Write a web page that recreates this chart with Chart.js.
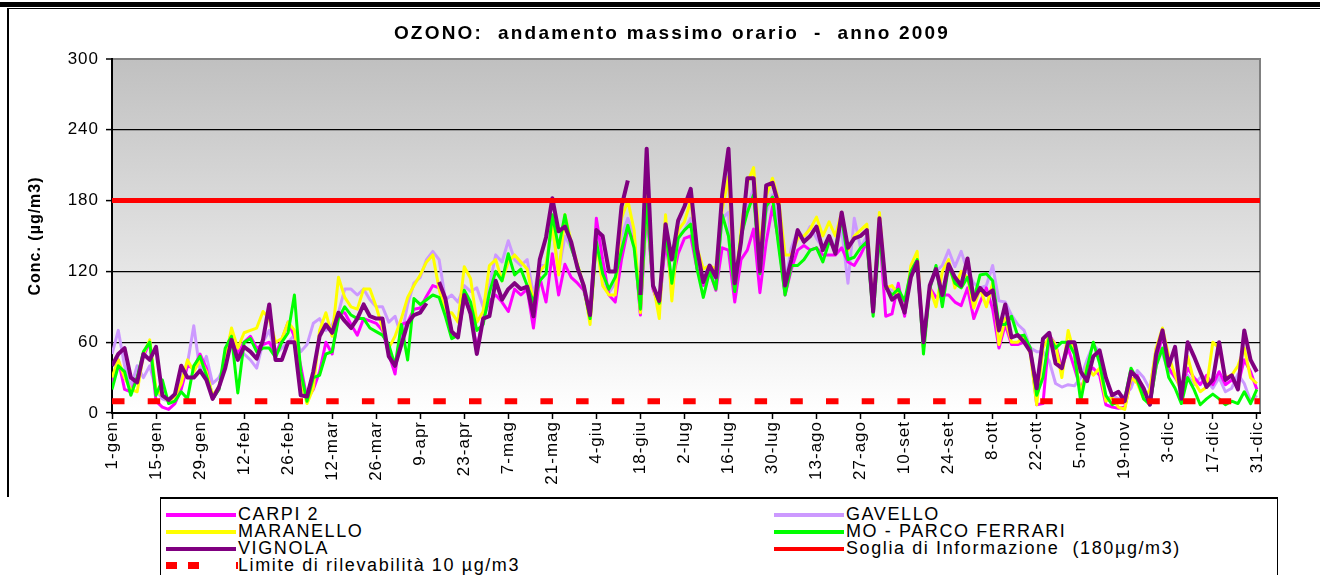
<!DOCTYPE html>
<html>
<head>
<meta charset="utf-8">
<script src="https://cdn.jsdelivr.net/npm/chart.js@4.4.0/dist/chart.umd.min.js"></script>
<style>
  body { margin: 0; background: #fff; font-family: "Liberation Sans", Arial, sans-serif; }
  #wrap { position: relative; width: 1320px; height: 575px; overflow: hidden; background: #fff; }
  #topband { position: absolute; left: 0; top: 2px; width: 1320px; height: 5px; background: #000; }
  #frame { position: absolute; left: 7px; top: 8px; width: 1320px; height: 489px; border-left: 2px solid #000; border-top: 1px solid #000; box-sizing: border-box; }
  #myChart { position: absolute; left: 0; top: 0; }
  #title { position: absolute; left: 322px; top: 22px; width: 700px; text-align: center; font-size: 19px; line-height: 22px; font-weight: bold; letter-spacing: 2.2px; color: #000; white-space: pre; }
  #legend { position: absolute; left: 160px; top: 497px; width: 1118px; height: 90px; border: 1px solid #000; border-top-width: 2px; box-sizing: border-box; background: #fff; }
  .item { position: absolute; height: 17px; line-height: 17px; font-size: 18px; letter-spacing: 1.6px; color: #000; white-space: pre; }
  .sw { position: absolute; left: 0; top: 7px; width: 70px; height: 4px; }
  .item span.txt { position: absolute; left: 72px; top: 0; }
</style>
</head>
<body>
<div id="wrap">
  <div id="topband"></div>
  <div id="frame"></div>
  <canvas id="myChart" width="1320" height="497"></canvas>
  <div id="title">OZONO:  andamento massimo orario  -  anno 2009</div>
  <div id="legend"></div>
</div>
<script>
const tickLabels = ['1-gen', '15-gen', '29-gen', '12-feb', '26-feb', '12-mar', '26-mar', '9-apr', '23-apr',
  '7-mag', '21-mag', '4-giu', '18-giu', '2-lug', '16-lug', '30-lug', '13-ago', '27-ago', '10-set',
  '24-set', '8-ott', '22-ott', '5-nov', '19-nov', '3-dic', '17-dic', '31-dic'];
const tickDays = tickLabels.map((_, i) => 1 + 14 * i);

// one reading every second day of the year
const days = Array.from({ length: 183 }, (_, i) => 1 + 2 * i);

const carpi = [
  25, 45, 20, 18, 30, 48, 60, 10, 5, 3, 8, 20, 40, 38, 50, 38, 12, 20, 50, 68, 50, 60, 65,
  55, 58, 60, 50, 62, 77, 65, 40, 12, 20, 35, 60, 50, 84, 85, 75, 66, 80, 78, 76, 70, 50, 33,
  75, 77, 88, 89, 99, 108, 106, 96, 66, 66, 96, 85, 55, 80, 95, 100, 94, 86, 105, 100, 105, 72, 115,
  94, 135, 100, 126, 115, 110, 104, 82, 165, 130, 100, 94, 130, 156, 145, 83, 175, 105, 90, 145, 110, 135, 148,
  150, 122, 108, 120, 104, 140, 138, 94, 130, 138, 156, 102, 145, 175, 145, 100, 122, 138, 142, 138, 140, 134, 134,
  134, 140, 128, 125, 134, 145, 86, 155, 82, 84, 110, 82, 122, 128, 60, 106, 98, 100, 100, 94, 91, 106, 80,
  94, 106, 88, 55, 75, 58, 58, 60, 55, 7, 8, 66, 58, 38, 55, 38, 20, 35, 38, 32, 7, 5, 4,
  5, 28, 32, 18, 8, 40, 68, 38, 30, 21, 38, 30, 24, 32, 24, 35, 24, 28, 24, 45, 35, 20
];
const gavello = [
  50, 70, 40, 22, 40, 30, 40, 20, 12, 10, 10, 30, 42, 74, 35, 48, 25, 30, 42, 65, 55, 50, 45,
  38, 60, 70, 50, 55, 60, 66, 52, 58, 76, 80, 70, 75, 85, 105, 105, 100, 105, 96, 90, 90, 77, 82,
  65, 92, 110, 115, 130, 137, 130, 96, 100, 94, 108, 103, 106, 90, 108, 134, 128, 146, 130, 125, 130, 100, 125,
  125, 160, 120, 150, 140, 125, 108, 80, 150, 115, 102, 110, 150, 165, 150, 85, 180, 108, 88, 160, 100, 150, 155,
  165, 130, 110, 122, 112, 165, 170, 100, 148, 175, 190, 120, 170, 185, 160, 110, 140, 155, 148, 158, 148, 140, 150,
  140, 155, 110, 165, 140, 150, 86, 165, 106, 104, 106, 88, 122, 128, 55, 106, 120, 125, 138, 124, 137, 120, 110,
  106, 108, 125, 95, 94, 83, 75, 70, 55, 52, 52, 44, 25, 22, 24, 23, 30, 45, 58, 52, 10, 15, 12,
  15, 21, 36, 30, 20, 55, 50, 35, 32, 25, 32, 24, 30, 28, 21, 30, 18, 21, 33, 25, 10, 15
];
const maranello = [
  30, 45, 30, 20, 18, 50, 62, 20, 15, 10, 14, 25, 45, 35, 45, 35, 15, 22, 45, 72, 55, 68, 70,
  72, 86, 80, 60, 63, 77, 70, 28, 8, 21, 70, 85, 65, 115, 98, 90, 88, 105, 105, 90, 72, 55, 65,
  80, 98, 108, 117, 128, 134, 105, 85, 85, 77, 124, 114, 77, 86, 125, 130, 112, 128, 134, 128, 122, 94, 120,
  126, 160, 117, 168, 145, 126, 108, 75, 145, 108, 100, 100, 165, 180, 155, 85, 185, 110, 80, 168, 95, 155, 162,
  180, 140, 122, 125, 122, 172, 200, 106, 155, 195, 208, 140, 184, 199, 180, 134, 134, 148, 150, 156, 166, 150, 162,
  150, 170, 138, 150, 155, 160, 86, 170, 106, 108, 100, 86, 125, 137, 55, 106, 90, 120, 130, 106, 120, 115, 89,
  106, 90, 110, 58, 80, 60, 60, 65, 50, 7, 55, 65, 58, 30, 70, 50, 15, 40, 32, 38, 10, 13, 5,
  3, 30, 25, 12, 20, 55, 72, 48, 32, 18, 48, 27, 18, 22, 60, 55, 30, 32, 40, 55, 30, 25
];
const parcoFerrari = [
  20, 40, 35, 15, 30, 52, 60, 15, 28, 8, 10, 18, 12, 40, 48, 32, 12, 20, 55, 65, 17, 60, 63,
  52, 55, 55, 47, 60, 68, 100, 35, 10, 30, 32, 50, 52, 80, 90, 83, 80, 80, 72, 69, 66, 58, 40,
  75, 45, 97, 92, 96, 100, 98, 82, 63, 66, 104, 94, 70, 75, 102, 120, 112, 135, 117, 122, 108, 94, 112,
  118, 168, 140, 168, 140, 125, 106, 80, 145, 118, 105, 115, 138, 159, 140, 88, 180, 108, 93, 155, 110, 148, 155,
  160, 122, 98, 120, 105, 168, 150, 103, 150, 170, 185, 118, 175, 183, 140, 100, 125, 125, 130, 138, 140, 128, 145,
  140, 165, 130, 132, 140, 145, 82, 150, 106, 100, 105, 95, 120, 130, 50, 105, 125, 90, 125, 110, 106, 115, 96,
  117, 118, 112, 75, 75, 82, 65, 66, 55, 15, 30, 65, 55, 60, 60, 50, 10, 38, 60, 42, 15, 7, 10,
  12, 38, 28, 12, 7, 40, 55, 30, 21, 8, 30, 20, 7, 12, 16, 12, 7, 10, 8, 18, 8, 20
];
const vignola = [
  40, 50, 55, 30, 26, 50, 45, 56, 15, 11, 16, 40, 30, 30, 36, 28, 12, 22, 38, 62, 45, 56, 52,
  46, 62, 92, 45, 45, 60, 60, 15, 14, 35, 65, 75, 68, 85, 78, 72, 80, 92, 82, 80, 80, 48, 40,
  58, 76, 83, 85, 93, null, 111, 97, 69, 64, 100, 84, 50, 80, 82, 112, 96, 105, 110, 105, 107, 82, 130,
  149, 182, 154, 158, 145, 123, 108, 83, 155, 150, 120, 120, 175, 197, null, 100, 224, 108, 95, 160, 130, 163, 175,
  190, 139, 111, 125, 115, 185, 224, 110, 145, 199, 199, 120, 193, 195, 176, 108, 130, 155, 145, 150, 158, 138, 150,
  135, 170, 140, 148, 150, 155, 86, 165, 108, 96, 100, 85, 115, 128, 60, 108, 122, 100, 126, 115, 108, 131, 96,
  106, 100, 104, 70, 92, 64, 66, 60, 52, 21, 63, 68, 42, 38, 60, 60, 35, 27, 48, 53, 30, 15, 18,
  10, 35, 30, 21, 7, 50, 70, 40, 56, 12, 60, 48, 35, 22, 28, 60, 28, 32, 20, 70, 45, 35
];
const sogliaInformazione = 180;
const limiteRilevabilita = 10;

const toPoints = (vals) => vals.map((v, i) => ({ x: days[i], y: v }));
const flatLine = (v) => [{ x: 1, y: v }, { x: 366, y: v }];

const series = [
  { label: 'CARPI 2', data: carpi, color: '#ff00ff', width: 3, order: 4 },
  { label: 'GAVELLO', data: gavello, color: '#cc99ff', width: 3, order: 5 },
  { label: 'MARANELLO', data: maranello, color: '#ffff00', width: 3, order: 3 },
  { label: 'MO - PARCO FERRARI', data: parcoFerrari, color: '#00ff00', width: 3, order: 2 },
  { label: 'VIGNOLA', data: vignola, color: '#800080', width: 4, order: 1 }
];

// grey-to-white fill of the plot area, plus its grey top/right edge
const plotBackground = {
  id: 'plotBackground',
  beforeDraw(chart) {
    const { ctx, chartArea: a } = chart;
    ctx.letterSpacing = '1px';
    const g = ctx.createLinearGradient(0, a.top, 0, a.bottom);
    g.addColorStop(0, '#c0c0c0');
    g.addColorStop(1, '#ffffff');
    ctx.save();
    ctx.fillStyle = g;
    ctx.fillRect(a.left, a.top, a.right - a.left, a.bottom - a.top);
    ctx.strokeStyle = '#808080';
    ctx.lineWidth = 2;
    ctx.beginPath();
    ctx.moveTo(a.left, a.top);
    ctx.lineTo(a.right, a.top);
    ctx.lineTo(a.right, a.bottom);
    ctx.stroke();
    ctx.restore();
  }
};

const datasets = series.map(s => ({
  label: s.label,
  data: toPoints(s.data),
  borderColor: s.color,
  borderWidth: s.width,
  order: s.order
}));
datasets.push({
  label: 'Soglia di Informazione  (180µg/m3)',
  data: flatLine(sogliaInformazione),
  borderColor: '#ff0000',
  borderWidth: 5,
  order: 0
});
datasets.push({
  label: 'Limite di rilevabilità 10 µg/m3',
  data: flatLine(limiteRilevabilita),
  borderColor: '#ff0000',
  borderWidth: 6,
  borderDash: [12.5, 23.2],
  order: 0
});

const font = '"Liberation Sans", Arial, sans-serif';
const ctx = document.getElementById('myChart').getContext('2d');
const chart = new Chart(ctx, {
  type: 'line',
  data: { datasets: datasets },
  options: {
    responsive: false,
    animation: false,
    spanGaps: false,
    elements: {
      point: { radius: 0 },
      line: { tension: 0, borderJoinStyle: 'round', borderCapStyle: 'butt', fill: false }
    },
    layout: { padding: { left: 0, right: 60, top: 59, bottom: 0 } },
    plugins: {
      legend: { display: false },
      tooltip: { enabled: false }
    },
    scales: {
      x: {
        type: 'linear',
        min: 1,
        max: 366,
        afterBuildTicks: (scale) => { scale.ticks = tickDays.map(v => ({ value: v })); },
        afterFit: (scale) => { scale.height = 84; },
        ticks: {
          autoSkip: false,
          maxRotation: 90,
          minRotation: 90,
          padding: 2,
          color: '#000',
          font: { family: font, size: 17 },
          callback: (v) => tickLabels[tickDays.indexOf(v)]
        },
        grid: { drawOnChartArea: false, drawTicks: true, tickLength: 6, tickColor: '#000', tickWidth: 1.5 },
        border: { color: '#000', width: 2 }
      },
      y: {
        min: 0,
        max: 300,
        afterFit: (scale) => { scale.width = 112; },
        ticks: {
          stepSize: 60,
          padding: 7,
          color: '#000',
          font: { family: font, size: 17 }
        },
        grid: {
          color: (c) => (c.tick.value === 0 ? 'rgba(0,0,0,0)' : c.tick.value === 300 ? '#808080' : '#000'),
          lineWidth: (c) => (c.tick.value === 300 ? 2 : 1.2),
          tickLength: 6,
          tickColor: '#000',
          tickWidth: 1.5
        },
        border: { color: '#000', width: 2 },
        title: {
          display: true,
          text: 'Conc. (µg/m3)',
          color: '#000',
          font: { family: font, size: 16, weight: 'bold' },
          padding: { top: 26, bottom: 0 }
        }
      }
    }
  },
  plugins: [plotBackground]
});

// legend drawn as HTML below the plot
const legendItems = [
  { label: 'CARPI 2', color: '#ff00ff', col: 0, row: 0 },
  { label: 'GAVELLO', color: '#cc99ff', col: 1, row: 0 },
  { label: 'MARANELLO', color: '#ffff00', col: 0, row: 1 },
  { label: 'MO - PARCO FERRARI', color: '#00ff00', col: 1, row: 1 },
  { label: 'VIGNOLA', color: '#800080', col: 0, row: 2 },
  { label: 'Soglia di Informazione  (180µg/m3)', color: '#ff0000', col: 1, row: 2 },
  { label: 'Limite di rilevabilità 10 µg/m3', color: '#ff0000', col: 0, row: 3, dashed: true }
];
const legend = document.getElementById('legend');
legendItems.forEach(it => {
  const d = document.createElement('div');
  d.className = 'item';
  d.style.left = (it.col === 0 ? 5 : 613) + 'px';
  d.style.top = (7 + it.row * 17) + 'px';
  const sw = document.createElement('span');
  sw.className = 'sw';
  if (it.dashed) {
    sw.style.background = 'linear-gradient(90deg, #ff0000 0 11px, transparent 11px 22px, #ff0000 22px 33px, transparent 33px 70px, #ff0000 70px 72px)';
    sw.style.height = '7px';
    sw.style.top = '5px';
    sw.style.width = '72px';
  } else {
    sw.style.background = it.color;
  }
  const t = document.createElement('span');
  t.className = 'txt';
  t.textContent = it.label;
  d.appendChild(sw);
  d.appendChild(t);
  legend.appendChild(d);
});
</script>
</body>
</html>
